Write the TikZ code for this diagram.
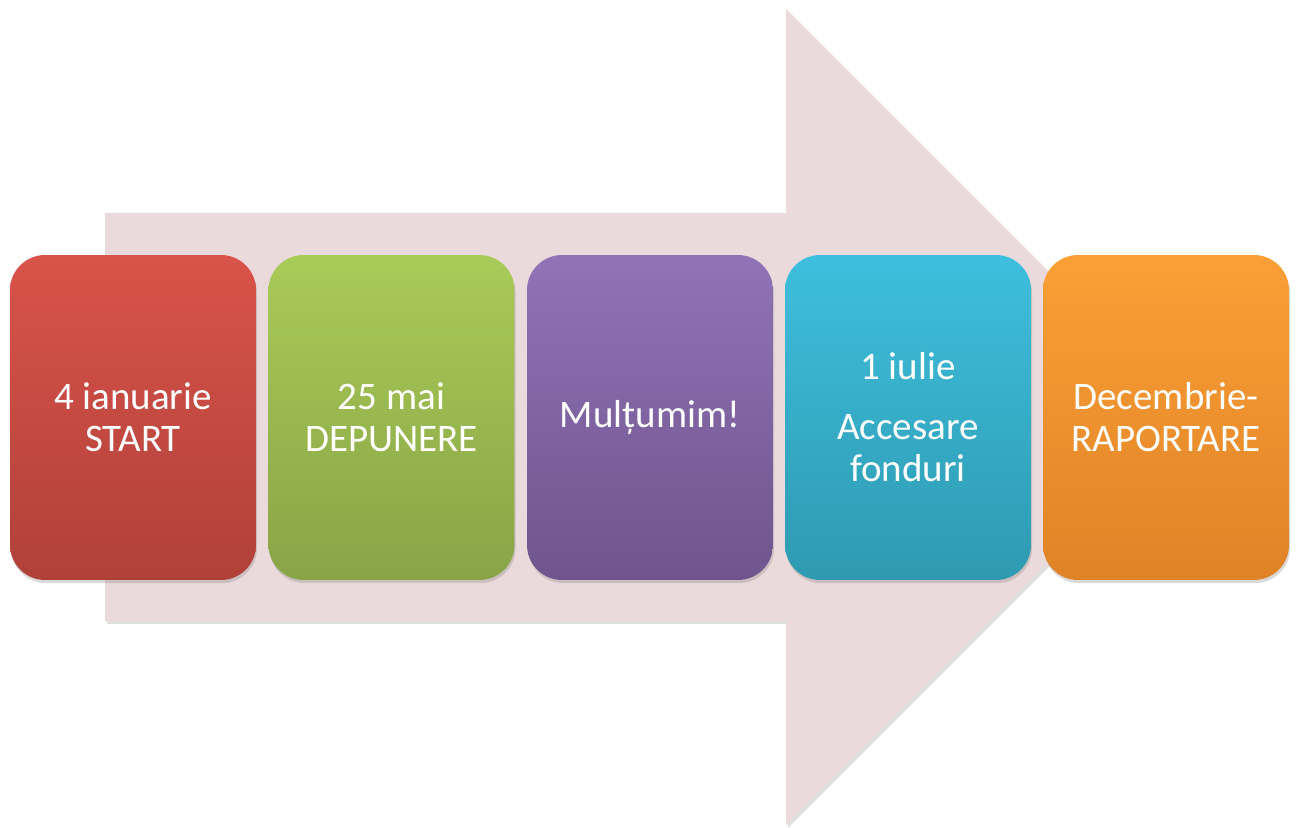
\documentclass[tikz,border=0pt]{standalone}
\usepackage{fontspec}
\setmainfont{Carlito}
\usepackage{tikz}
\usetikzlibrary{shadows}
\definecolor{trackpink}{HTML}{EBDADB}
\definecolor{startred}{HTML}{D9534A}
\definecolor{startredd}{HTML}{B04139}
\definecolor{depgreen}{HTML}{A9CB58}
\definecolor{depgreend}{HTML}{89A446}
\definecolor{thxpurple}{HTML}{9173B6}
\definecolor{thxpurpled}{HTML}{6F548D}
\definecolor{fundcyan}{HTML}{3EBFDD}
\definecolor{fundcyand}{HTML}{2E9AB1}
\definecolor{reporange}{HTML}{FBA036}
\definecolor{reporanged}{HTML}{DF8327}

\begin{document}
\begin{tikzpicture}[
  x=0.02cm,y=-0.02cm,
  track/.style={fill=trackpink,drop shadow={shadow xshift=1.2pt,shadow yshift=-1.6pt,opacity=0.25}},
  stage/.style={rounded corners=0.7cm,minimum width=4.92cm,minimum height=6.5cm,align=center,
    text=white,font=\fontsize{22.2pt}{23.9pt}\selectfont,
    drop shadow={shadow xshift=0.6pt,shadow yshift=-1.8pt,opacity=0.3}}
]
\useasboundingbox (0,0) rectangle (1296,828);
% big arrow behind the stages
\path[track] (105,213) -- (786,213) -- (786,9) -- (1194,417) -- (786,825) -- (786,621) -- (105,621) -- cycle;
% the five stages
\node[stage,top color=startred,bottom color=startredd] (start) at (133,417.5) {4 ianuarie\\START};
\node[stage,top color=depgreen,bottom color=depgreend] (depunere) at (391.5,417.5) {25 mai\\DEPUNERE};
\node[stage,top color=thxpurple,bottom color=thxpurpled] (multumim) at (650,417.5) {Mulțumim!};
\node[stage,top color=fundcyan,bottom color=fundcyand] (fonduri) at (908,417.5) {1 iulie\\[0.36cm]Accesare\\fonduri};
\node[stage,top color=reporange,bottom color=reporanged] (raportare) at (1166,417.5) {Decembrie-\\RAPORTARE};
\end{tikzpicture}
\end{document}
